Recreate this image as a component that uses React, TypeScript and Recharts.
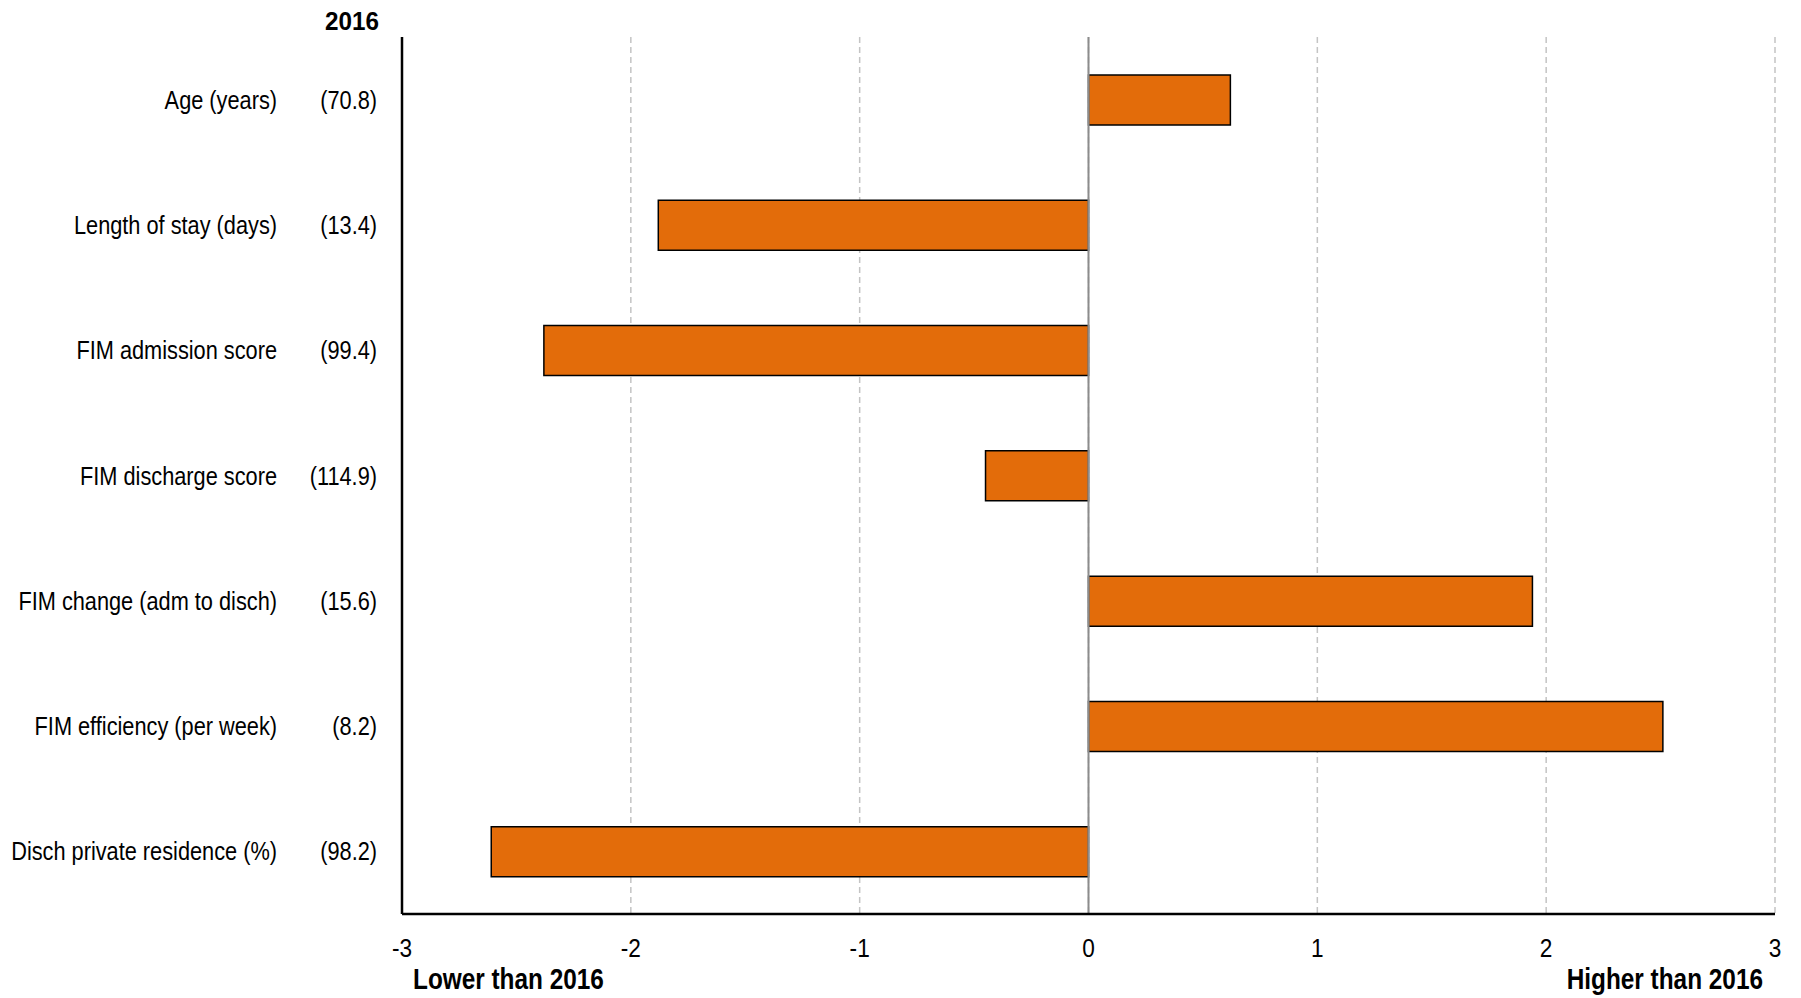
import React from "react";
import { BarChart, Bar, XAxis, YAxis, CartesianGrid, ReferenceLine } from "recharts";

const categories = [
  "Age (years)",
  "Length of stay (days)",
  "FIM admission score",
  "FIM discharge score",
  "FIM change (adm to disch)",
  "FIM efficiency (per week)",
  "Disch private residence (%)",
];
const baseline2016 = ["(70.8)", "(13.4)", "(99.4)", "(114.9)", "(15.6)", "(8.2)", "(98.2)"];
const differences = [0.62, -1.88, -2.38, -0.45, 1.94, 2.51, -2.61];
const xTicks = [-3, -2, -1, 0, 1, 2, 3];

const data = categories.map((name, i) => ({ name, base: baseline2016[i], value: differences[i] }));

const FONT = "'Liberation Sans Narrow', 'Arial Narrow', 'Liberation Sans', Arial, sans-serif";
const W = 1801;
const H = 998;
const SX = 0.87;

const YTick = (props: any) => {
  const { x, y, payload } = props;
  const idx = categories.indexOf(payload.value);
  return (
    <g>
      <text
        transform={`translate(${x - 100},${y}) scale(${SX},1)`}
        x={0}
        y={0}
        dy={9}
        textAnchor="end"
        fontFamily={FONT}
        fontSize={25}
        fill="#000"
      >
        {payload.value}
      </text>
      <text
        transform={`translate(${x},${y}) scale(${SX},1)`}
        x={0}
        y={0}
        dy={9}
        textAnchor="end"
        fontFamily={FONT}
        fontSize={25}
        fill="#000"
      >
        {baseline2016[idx]}
      </text>
    </g>
  );
};

const XTick = (props: any) => {
  const { x, y, payload } = props;
  return (
    <text
      transform={`translate(${x},${y}) scale(${SX},1)`}
      x={0}
      y={0}
      dy={35}
      textAnchor="middle"
      fontFamily={FONT}
      fontSize={26}
      fill="#000"
    >
      {payload.value}
    </text>
  );
};

const boldLabel: React.CSSProperties = {
  position: "absolute",
  lineHeight: "32px",
  fontWeight: "bold",
  whiteSpace: "nowrap",
};

export default function App() {
  return (
    <div style={{ position: "relative", width: W, height: H, background: "#fff", fontFamily: FONT }}>
      <style>{"body{margin:0;}"}</style>
      <BarChart
        width={W}
        height={H}
        data={data}
        layout="vertical"
        margin={{ top: 37, right: 26, bottom: 0, left: 10 }}
        barSize={50}
      >
        <CartesianGrid horizontal={false} vertical={true} stroke="#c4c4c4" strokeDasharray="6 4" strokeWidth={1.5} />
        <XAxis
          xAxisId="top"
          type="number"
          orientation="top"
          domain={[-3, 3]}
          ticks={xTicks}
          tick={false}
          tickLine={false}
          height={0}
          axisLine={{ stroke: "#7f7f7f", strokeWidth: 2 }}
        />
        <XAxis
          type="number"
          domain={[-3, 3]}
          ticks={xTicks}
          tick={<XTick />}
          tickLine={false}
          height={84}
          axisLine={{ stroke: "#000", strokeWidth: 2.5 }}
          interval={0}
        />
        <YAxis
          yAxisId="right"
          type="category"
          dataKey="name"
          orientation="right"
          tick={false}
          tickLine={false}
          width={0}
          axisLine={{ stroke: "#404040", strokeWidth: 2 }}
        />
        <YAxis
          type="category"
          dataKey="name"
          width={392}
          tick={<YTick />}
          tickLine={false}
          tickSize={0}
          tickMargin={25}
          interval={0}
          axisLine={{ stroke: "#000", strokeWidth: 2.5 }}
        />
        <Bar dataKey="value" fill="#E36C0A" stroke="#000" strokeWidth={1.5} isAnimationActive={false} />
        <ReferenceLine x={0} stroke="#8c8c8c" strokeWidth={2} />
      </BarChart>
      <div
        style={{
          ...boldLabel,
          left: 0,
          width: 379,
          top: 5,
          textAlign: "right",
          fontSize: 25,
          transform: "scaleX(0.97)",
          transformOrigin: "right center",
        }}
      >
        2016
      </div>
      <div
        style={{
          ...boldLabel,
          left: 413,
          top: 963,
          fontSize: 29,
          transform: "scaleX(0.84)",
          transformOrigin: "left center",
        }}
      >
        Lower than 2016
      </div>
      <div
        style={{
          ...boldLabel,
          left: 1200,
          width: 563,
          top: 963,
          textAlign: "right",
          fontSize: 29,
          transform: "scaleX(0.84)",
          transformOrigin: "right center",
        }}
      >
        Higher than 2016
      </div>
    </div>
  );
}
